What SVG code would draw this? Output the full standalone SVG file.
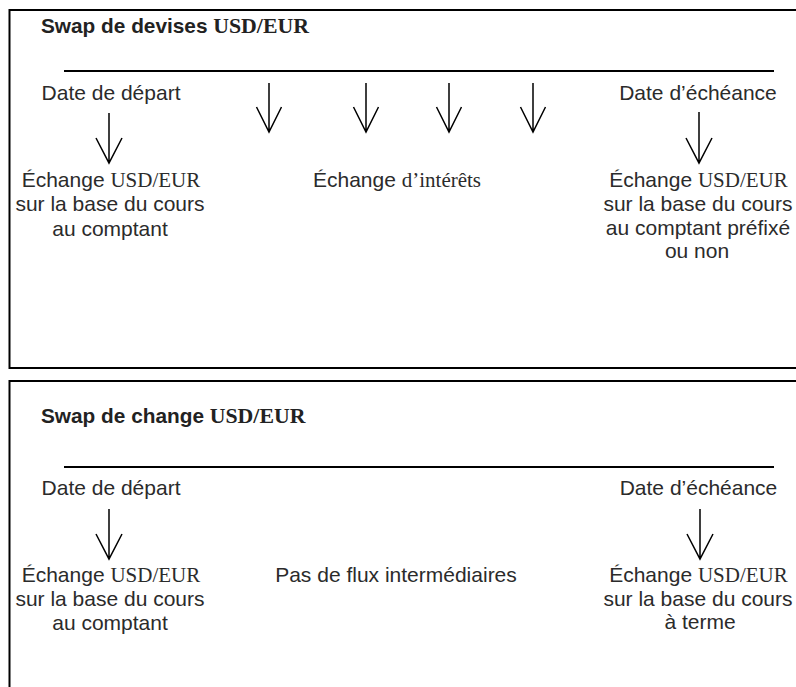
<svg xmlns="http://www.w3.org/2000/svg" width="796" height="687" viewBox="0 0 796 687">
<style>
.frame{fill:none;stroke:#000;stroke-width:2}
.axis{stroke:#000;stroke-width:2}
.arr{fill:none;stroke:#000;stroke-width:1.5;stroke-linejoin:miter}
.t{font-family:"Liberation Sans",Arial,sans-serif;font-size:21px;fill:#2b2b2b}
.s{font-family:"Liberation Serif","Times New Roman",serif}
.h{font-family:"Liberation Sans",Arial,sans-serif;font-size:20.8px;font-weight:bold;fill:#222}
.hs{font-family:"Liberation Serif","Times New Roman",serif;font-size:21.8px}
.c{text-anchor:middle}
</style>
<rect width="796" height="687" fill="#fff"/>

<g id="panel-devises">
<path class="frame" d="M800,10 H9.5 V368 H800"/>
<text class="h" x="41" y="33">Swap de devises <tspan class="hs">USD/EUR</tspan></text>
</g>
<g id="panel-change">
<path class="frame" d="M800,381 H9.5 V690"/>
<text class="h" x="41" y="423">Swap de change <tspan class="hs">USD/EUR</tspan></text>
</g>

<g id="connectors">
<line class="axis" x1="64" y1="71" x2="774" y2="71"/>
<line class="axis" x1="64" y1="467" x2="774" y2="467"/>
<path class="arr" d="M109,113 V163 M96,138 L109,163 L122,138"/>
<path class="arr" d="M269,83 V132 M256.5,107 L269,132 L281.5,107"/>
<path class="arr" d="M366,83 V132 M353.5,107 L366,132 L378.5,107"/>
<path class="arr" d="M449,83 V132 M436.5,107 L449,132 L461.5,107"/>
<path class="arr" d="M533,83 V132 M520.5,107 L533,132 L545.5,107"/>
<path class="arr" d="M699,112 V163 M686,138 L699,163 L712,138"/>
<path class="arr" d="M109,509 V559 M96,534 L109,559 L122,534"/>
<path class="arr" d="M700,509 V559 M687,534 L700,559 L713,534"/>
</g>

<g id="start-top">
<text class="t c" x="111" y="100">Date de départ</text>
<text class="t c" x="111" y="187">Échange <tspan class="s">USD/EUR</tspan></text>
<text class="t c" x="110" y="211">sur la base du cours</text>
<text class="t c" x="110" y="236">au comptant</text>
</g>
<g id="interest-top">
<text class="t c" x="397" y="187">Échange <tspan class="s">d’intérêts</tspan></text>
</g>
<g id="maturity-top">
<text class="t c" x="698" y="100">Date d’échéance</text>
<text class="t c" x="698.5" y="187">Échange <tspan class="s">USD/EUR</tspan></text>
<text class="t c" x="698" y="211">sur la base du cours</text>
<text class="t c" x="698" y="235">au comptant préfixé</text>
<text class="t c" x="697" y="258">ou non</text>
</g>

<g id="start-bottom">
<text class="t c" x="111" y="495">Date de départ</text>
<text class="t c" x="111" y="582">Échange <tspan class="s">USD/EUR</tspan></text>
<text class="t c" x="110" y="606">sur la base du cours</text>
<text class="t c" x="110" y="630">au comptant</text>
</g>
<g id="middle-bottom">
<text class="t c" x="396" y="582">Pas de flux intermédiaires</text>
</g>
<g id="maturity-bottom">
<text class="t c" x="698.5" y="495">Date d’échéance</text>
<text class="t c" x="698.5" y="582">Échange <tspan class="s">USD/EUR</tspan></text>
<text class="t c" x="698" y="606">sur la base du cours</text>
<text class="t c" x="700" y="629">à terme</text>
</g>
</svg>
